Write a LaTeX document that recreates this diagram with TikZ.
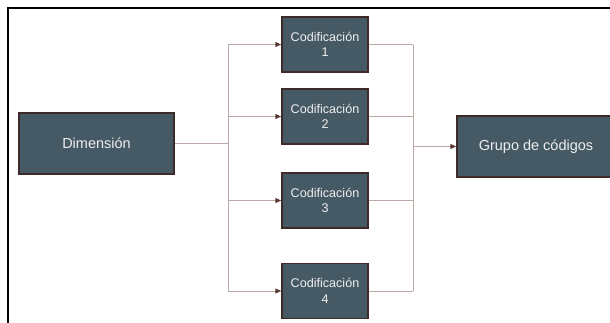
\documentclass[tikz,border=0pt]{standalone}
\usepackage{fontspec}
\setmainfont{Liberation Sans}
\usetikzlibrary{arrows.meta}
\definecolor{boxfill}{HTML}{465A65}
\definecolor{boxline}{HTML}{3E2A26}
\definecolor{linkc}{HTML}{BBA9A5}
\definecolor{tipc}{HTML}{5A3A33}
\definecolor{txtc}{HTML}{EEEEEE}
\begin{document}
\begin{tikzpicture}[x=1pt,y=-1pt,
  box/.style={draw=boxline, line width=1.5pt, fill=boxfill, text=txtc, align=center, inner sep=0pt},
  bigbox/.style={box, font=\fontsize{14.5}{17}\selectfont},
  codbox/.style={box, minimum width=86pt, minimum height=55pt, font=\fontsize{12.6}{15.5}\selectfont},
  link/.style={draw=linkc, line width=1pt},
  arr/.style={link, -{Triangle[length=6pt,width=5pt,color=tipc]}}]
\useasboundingbox (0,0) rectangle (610,322);
\begin{scope}
\clip (0,0) rectangle (610,322);
\draw[black, line width=2pt] (8,330) -- (8,8) -- (620,8);
\node[bigbox, minimum width=155pt, minimum height=61pt] (dim) at (96.5,143.5) {Dimensión};
\node[codbox] (c1) at (325,44.5) {Codificación\\1};
\node[codbox] (c2) at (325,116.5) {Codificación\\2};
\node[codbox] (c3) at (325,200.5) {Codificación\\3};
\node[codbox] (c4) at (325,291) {Codificación\\4};
\node[bigbox, minimum width=158pt, minimum height=61pt] (grp) at (536,146.5) {Grupo de códigos};
\end{scope}
\coordinate (ja) at (228,143.5);
\coordinate (jt) at (228,44.5);
\coordinate (jb) at (228,291);
\coordinate (kt) at (413,44.5);
\coordinate (kb) at (413,291);
\coordinate (km) at (413,146.5);
\draw[link] (dim.east) -- (ja);
\draw[link] (jt) -- (jb);
\draw[arr] (jt) -- (c1.west);
\draw[arr] (ja |- c2.west) -- (c2.west);
\draw[arr] (ja |- c3.west) -- (c3.west);
\draw[arr] (jb) -- (c4.west);
\draw[link] (c1.east) -- (kt);
\draw[link] (c2.east) -- (kt |- c2.east);
\draw[link] (c3.east) -- (kt |- c3.east);
\draw[link] (c4.east) -- (kb);
\draw[link] (kt) -- (kb);
\draw[arr] (km) -- (grp.west);
\end{tikzpicture}
\end{document}
